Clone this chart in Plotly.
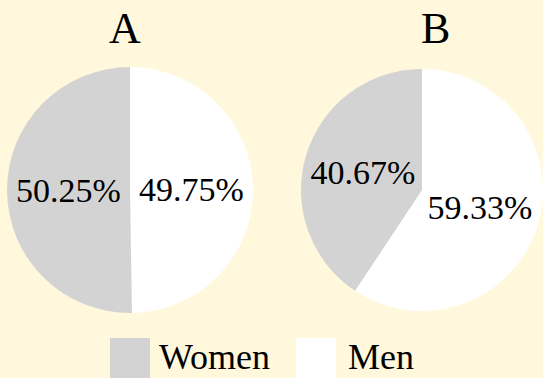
import plotly.graph_objects as go

W, H = 543, 378
labels = ["Women", "Men"]
values_a = [50.25, 49.75]
values_b = [40.67, 59.33]
titles = ["A", "B"]
colors = ["#D3D3D3", "#FFFFFF"]
bg = "#FFF8DC"
FONT = "Liberation Serif, serif"

def px(x):
    return x / W

def py(y):
    return 1 - y / H

fig = go.Figure()
for vals, dom_x in [(values_a, [px(7), px(253)]), (values_b, [px(301), 1.0])]:
    # plotly places the first slice right of 12 o'clock, so feed Men first
    fig.add_trace(go.Pie(
        labels=labels[::-1], values=vals[::-1], sort=False, direction="clockwise",
        rotation=0,
        marker=dict(colors=colors[::-1], line=dict(width=0)),
        texttemplate="%{percent:.2%}", textposition="inside",
        insidetextorientation="horizontal",
        textfont=dict(family=FONT, size=34, color="black"),
        insidetextfont=dict(family=FONT, size=34, color="black"),
        domain=dict(x=dom_x, y=[py(313), py(67)]),
        showlegend=False, hoverinfo="label+percent",
    ))

for t, x in zip(titles, [125, 435]):
    fig.add_annotation(text=t, x=px(x), y=py(28), xref="paper", yref="paper",
                       showarrow=False, xanchor="center", yanchor="middle",
                       font=dict(family=FONT, size=44, color="black"))

# custom legend
for lab, col, x0, tx in [(labels[0], colors[0], 110, 157), (labels[1], colors[1], 296, 346)]:
    fig.add_shape(type="rect", xref="paper", yref="paper",
                  x0=px(x0), x1=px(x0 + 40), y0=py(380), y1=py(338),
                  fillcolor=col, line=dict(width=0), layer="above")
    fig.add_annotation(text=lab, x=px(tx), y=py(357), xref="paper", yref="paper",
                       showarrow=False, xanchor="left", yanchor="middle",
                       font=dict(family=FONT, size=36, color="black"))

fig.update_layout(width=W, height=H, margin=dict(l=0, r=0, t=0, b=0),
                  paper_bgcolor=bg, plot_bgcolor=bg, showlegend=False)
fig.write_html("out.html")
